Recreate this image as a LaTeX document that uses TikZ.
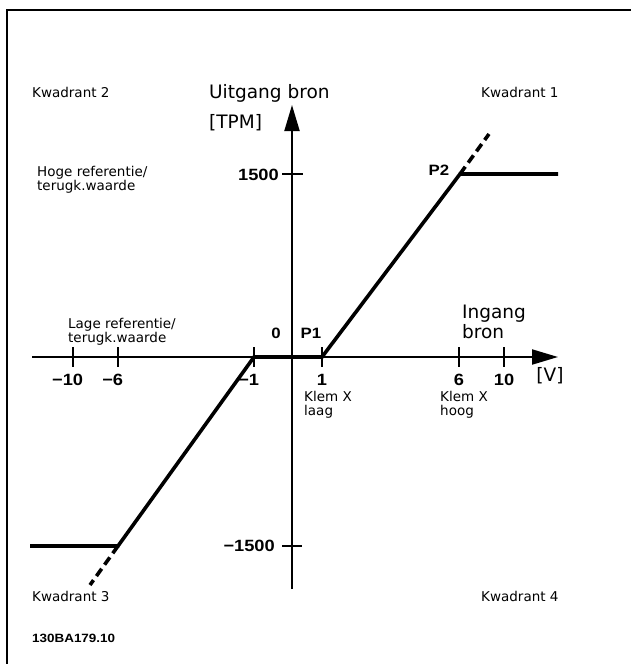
\documentclass[tikz,border=0pt]{standalone}
\usepackage{fontspec}
\setmainfont{DejaVu Sans}
\newfontfamily\numfont[FakeStretch=1.12]{Liberation Sans}
\usetikzlibrary{arrows.meta}

\begin{document}
\begin{tikzpicture}[x=1pt, y=-1pt,
        lbl/.style={font=\fontsize{13.5}{14.5}\selectfont, inner sep=0pt},
        big/.style={font=\fontsize{18.5}{20}\selectfont, inner sep=0pt},
        num/.style={font=\numfont\bfseries\fontsize{16.3}{20}\selectfont, inner sep=0pt},
        pnt/.style={font=\numfont\bfseries\fontsize{15}{18}\selectfont, inner sep=0pt},
        axis/.style={line width=2pt},
        tickmark/.style={line width=1.3pt},
        curve/.style={line width=3.6pt},
        dashcurve/.style={line width=3.6pt, dash pattern=on 9pt off 5pt},
        arrowhead/.style={-{Triangle[length=26pt,width=15pt]}}]
  \useasboundingbox (0,0) rectangle (631,664);

  \coordinate (fbl) at (7,664);
  \coordinate (ftl) at (7,10);
  \coordinate (ftr) at (631,10);
  \draw[line width=2.3pt] (fbl) -- (ftl) -- (ftr);

  \coordinate (ybot) at (292,589);
  \coordinate (ytop) at (292,105);
  \coordinate (xleft) at (32,357);
  \coordinate (xright) at (558,357);
  \draw[axis, arrowhead] (ybot) -- (ytop);
  \draw[axis, arrowhead] (xleft) -- (xright);

  \coordinate (t-10) at (73,357);
  \coordinate (t-6) at (118,357);
  \coordinate (t-1) at (254,357);
  \coordinate (t1) at (322,357);
  \coordinate (t6) at (459,357);
  \coordinate (t10) at (504,357);
  \draw[tickmark] ([yshift=10pt]t-10) -- ([yshift=-10pt]t-10);
  \draw[tickmark] ([yshift=10pt]t-6) -- ([yshift=-10pt]t-6);
  \draw[tickmark] ([yshift=10pt]t-1) -- ([yshift=-10pt]t-1);
  \draw[tickmark] ([yshift=10pt]t1) -- ([yshift=-10pt]t1);
  \draw[tickmark] ([yshift=10pt]t6) -- ([yshift=-10pt]t6);
  \draw[tickmark] ([yshift=10pt]t10) -- ([yshift=-10pt]t10);

  \node[num, yshift=-23pt] (l-10) at (t-10) {\llap{−}10};
  \node[num, yshift=-23pt] (l-6) at (t-6) {\llap{−}6};
  \node[num, yshift=-23pt] (l-1) at (t-1) {\llap{−}1};
  \node[num, yshift=-23pt] (l1) at (t1) {1};
  \node[num, yshift=-23pt] (l6) at (t6) {6};
  \node[num, yshift=-23pt] (l10) at (t10) {10};
  \node[big] (volt) at (550,376) {[V]};

  \coordinate (y1500) at (292,174);
  \coordinate (ym1500) at (292,546);
  \draw[tickmark] ([xshift=-10pt]y1500) -- ([xshift=11pt]y1500);
  \draw[tickmark] ([xshift=-10pt]ym1500) -- ([xshift=10pt]ym1500);
  \node[num, anchor=east] (l1500) at (279,175) {1500};
  \node[num, anchor=east] (lm1500) at (275,546) {−1500};

  \coordinate (p1) at (322,357);
  \coordinate (pm1) at (254,357);
  \coordinate (p2) at (460,174);
  \coordinate (pm6) at (118,546);
  \coordinate (hiend) at (558,174);
  \coordinate (loend) at (30,546);
  \coordinate (hidash) at (489,134);
  \coordinate (lodash) at (90,585);
  \draw[curve] (loend) -- (pm6) -- (pm1) -- (p1) -- (p2) -- (hiend);
  \draw[dashcurve] (p2) -- (hidash);
  \draw[dashcurve] (pm6) -- (lodash);

  \node[pnt] (nul) at (276,333) {0};
  \node[pnt] (lp1) at (311,333) {P1};
  \node[pnt] (lp2) at (439,170) {P2};

  \node[big, anchor=west] (uit) at (209,93) {Uitgang bron};
  \node[big, anchor=west] (tpm) at (209,123) {[TPM]};
  \node[big, anchor=west, align=left] (ing) at (462,322) {Ingang\\bron};

  \node[lbl, anchor=west] (q2) at (32,92) {Kwadrant 2};
  \node[lbl, anchor=west] (q1) at (481,92) {Kwadrant 1};
  \node[lbl, anchor=west] (q3) at (32,596) {Kwadrant 3};
  \node[lbl, anchor=west] (q4) at (481,596) {Kwadrant 4};
  \node[lbl, anchor=west, align=left] (hoge) at (37,180) {Hoge referentie/\\terugk.waarde};
  \node[lbl, anchor=west, align=left] (lage) at (68,332) {Lage referentie/\\terugk.waarde};
  \node[lbl, anchor=west, align=left] (klaag) at (304,405) {Klem X\\laag};
  \node[lbl, anchor=west, align=left] (khoog) at (440,405) {Klem X\\hoog};

  \node[anchor=west, inner sep=0pt, font=\numfont\bfseries\fontsize{12}{14}\selectfont] (code) at (32,638) {130BA179.10};
\end{tikzpicture}
\end{document}
